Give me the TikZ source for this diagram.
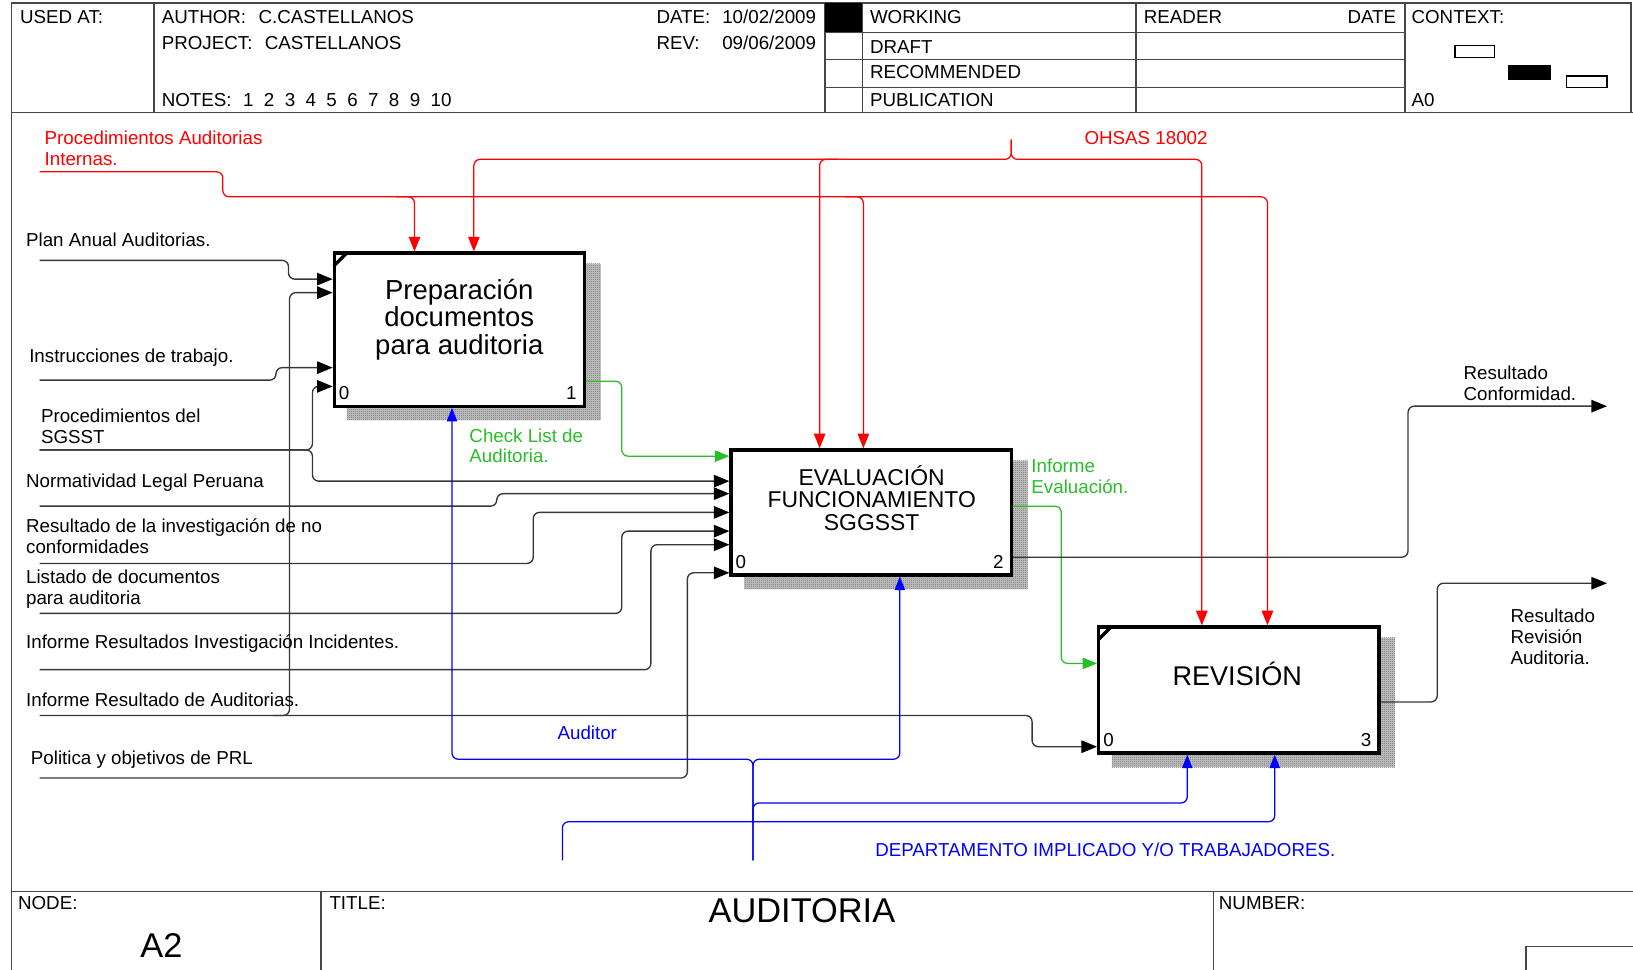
\documentclass[tikz,border=0pt]{standalone}
\usepackage{fontspec}
\setmainfont{Liberation Sans}
\usetikzlibrary{arrows.meta,patterns.meta}

\definecolor{idefred}{RGB}{255,0,0}
\definecolor{idefblue}{RGB}{0,0,255}
\definecolor{idefgreen}{RGB}{40,190,40}
\definecolor{framegray}{RGB}{70,70,70}
\definecolor{wiregray}{RGB}{55,55,55}

\pgfdeclarelayer{background}
\pgfsetlayers{background,main}

% fine checker used for the box shadows
\tikzdeclarepattern{
  name=shadowcheck,
  type=uncolored,
  bottom left={(0pt,0pt)},
  top right={(1pt,1pt)},
  tile size={(1pt,1pt)},
  code={
    \pgfpathrectangle{\pgfpointorigin}{\pgfpoint{0.5pt}{0.5pt}}
    \pgfpathrectangle{\pgfpoint{0.5pt}{0.5pt}}{\pgfpoint{0.5pt}{0.5pt}}
    \pgfusepath{fill}
  }
}

\newcommand{\lblfont}{\fontsize{9pt}{10pt}\selectfont}

\tikzset{
  frame/.style={draw=framegray, line width=0.75pt},
  fnbox/.style={draw=black, line width=1.6pt, fill=white, inner sep=0pt},
  boxtitle/.style={inner sep=0pt, align=center},
  boxnum/.style={inner sep=0pt, anchor=base, font=\lblfont},
  lbl/.style={inner sep=0pt, anchor=base west, font=\lblfont},
  mlbl/.style={inner sep=0pt, anchor=north west, align=left, font=\lblfont},
  hdr/.style={inner sep=0pt, anchor=base west, font=\lblfont},
  wire/.style={draw=wiregray, line width=0.65pt, rounded corners=3pt,
    -{Triangle[length=7.5pt,width=6pt,color=black]}},
  ctrl/.style={draw=idefred, line width=0.6pt, rounded corners=3pt,
    -{Triangle[length=7pt,width=5.5pt]}},
  mech/.style={draw=idefblue, line width=0.6pt, rounded corners=3pt,
    -{Triangle[length=6.5pt,width=5pt]}},
  outgreen/.style={draw=idefgreen, line width=0.6pt, rounded corners=3pt,
    -{Triangle[length=7pt,width=5.5pt]}},
  shade/.style={preaction={fill=black!22}, pattern={shadowcheck}, pattern color=black!60},
  cornermark/.style={draw=black, line width=1.6pt},
}

\begin{document}
\begin{tikzpicture}[x=0.5pt,y=-0.5pt]
\useasboundingbox (0,0) rectangle (1568,931);

% ---------- sheet frame and header ----------
\draw[frame] (11,931) -- (11,3) -- (1566,3) -- (1566,108);
\draw[frame] (11,108) -- (1568,108);
\foreach \x in {148,792,828,1091,1349} \draw[frame] (\x,3) -- (\x,108);
\foreach \y in {31,57,84} \draw[frame] (792,\y) -- (1349,\y);
\fill[black] (792,3) rectangle (828,31);

\node[hdr] (usedat) at (19,22.5) {USED AT:};
\node[hdr] (author) at (155,22.5) {AUTHOR:\hspace{6pt}C.CASTELLANOS};
\node[hdr] (project) at (155,47.5) {PROJECT:\hspace{6pt}CASTELLANOS};
\node[hdr] (notes) at (155,102) {NOTES:\hspace{5.5pt}1\hspace{5pt}2\hspace{5pt}3\hspace{5pt}4\hspace{5pt}5\hspace{5pt}6\hspace{5pt}7\hspace{5pt}8\hspace{5pt}9\hspace{5pt}10};
\node[hdr] (datelbl) at (630,22.5) {DATE:};
\node[hdr, anchor=base east] (dateval) at (784,22.5) {10/02/2009};
\node[hdr] (revlbl) at (630,47.5) {REV:};
\node[hdr, anchor=base east] (revval) at (784,47.5) {09/06/2009};
\node[hdr] (working) at (835,22.5) {WORKING};
\node[hdr] (draft) at (835,51) {DRAFT};
\node[hdr] (recommended) at (835,75.5) {RECOMMENDED};
\node[hdr] (publication) at (835,102) {PUBLICATION};
\node[hdr] (reader) at (1098,22.5) {READER};
\node[hdr, anchor=base east] (readerdate) at (1341,22.5) {DATE};
\node[hdr] (context) at (1355,22.5) {CONTEXT:};
\node[hdr] (ctxnode) at (1355,102) {A0};
\draw[black, line width=0.6pt] (1397,44) rectangle (1435,55);
\fill[black] (1448,62) rectangle (1489,77);
\draw[black, line width=0.6pt] (1504,73) rectangle (1543,84);

% ---------- footer ----------
\draw[frame] (11,856) -- (1568,856);
\draw[frame] (308,856) -- (308,931);
\draw[frame] (1165,856) -- (1165,931);
\draw[frame] (1465,931) -- (1465,909) -- (1568,909);
\node[hdr] (nodelbl) at (17,873.5) {NODE:};
\node[hdr] (titlelbl) at (316,873.5) {TITLE:};
\node[hdr] (numberlbl) at (1170,873.5) {NUMBER:};
\node[inner sep=0pt, anchor=base, font=\fontsize{16.5pt}{18pt}\selectfont] (nodeid) at (155,919) {A2};
\node[inner sep=0pt, anchor=base, font=\fontsize{16.5pt}{18pt}\selectfont] (title) at (770,885.5) {AUDITORIA};

% ---------- activity boxes ----------
\node[fnbox, minimum width=120pt, minimum height=73.5pt] (b1) at (441,316.5) {};
\node[fnbox, minimum width=134.5pt, minimum height=60pt] (b2) at (836.5,492) {};
\node[fnbox, minimum width=134.5pt, minimum height=60.5pt] (b3) at (1189.5,662.5) {};

\begin{pgfonlayer}{background}
  \foreach \b in {b1,b2,b3}
    \fill[shade] ([shift={(14,12)}]\b.north west) rectangle ([shift={(14,12)}]\b.south east);
\end{pgfonlayer}

\draw[cornermark] ([shift={(1,14)}]b1.north west) -- ([shift={(14,1)}]b1.north west);
\draw[cornermark] ([shift={(1,14)}]b3.north west) -- ([shift={(14,1)}]b3.north west);

\node[boxtitle, font=\fontsize{13.2pt}{13pt}\selectfont] (b1t) at (441,307) {Preparación\\documentos\\para auditoria};
\node[boxtitle, font=\fontsize{11pt}{10.8pt}\selectfont] (b2t) at (837,478) {EVALUACIÓN\\FUNCIONAMIENTO\\SGGSST};
\node[boxtitle, anchor=base, font=\fontsize{13pt}{13pt}\selectfont] (b3t) at (1188,658.5) {REVISIÓN};

\node[boxnum] (b1n0) at ([shift={(11,-8)}]b1.south west) {0};
\node[boxnum] (b1n1) at ([shift={(-14,-8)}]b1.south east) {1};
\node[boxnum] (b2n0) at ([shift={(11,-8)}]b2.south west) {0};
\node[boxnum] (b2n2) at ([shift={(-14,-8)}]b2.south east) {2};
\node[boxnum] (b3n0) at ([shift={(11,-8)}]b3.south west) {0};
\node[boxnum] (b3n3) at ([shift={(-14,-8)}]b3.south east) {3};

% ---------- free ends of the boundary arrows ----------
\coordinate (procSrc) at (38,165);
\coordinate (ohsasSrc) at (971,134);
\coordinate (planSrc) at (38,250);
\coordinate (instrSrc) at (38,365);
\coordinate (sgsstSrc) at (38,432);
\coordinate (normSrc) at (38,486);
\coordinate (invSrc) at (38,541);
\coordinate (listSrc) at (38,589);
\coordinate (incSrc) at (38,643);
\coordinate (audSrc) at (38,687);
\coordinate (prlSrc) at (38,747);
\coordinate (deptSrcA) at (723,826);
\coordinate (deptSrcB) at (540,826);
\coordinate (confEnd) at (1543,390);
\coordinate (revEnd) at (1543,560);

% ---------- controls (red) ----------
\draw[ctrl] (procSrc) -- (214,165) -- (214,189) -- (1217,189) -- (1217,0 |- b3.north);
\draw[ctrl] (380,189) -- (398,189) -- (398,0 |- b1.north);
\draw[ctrl] (811,189) -- (829,189) -- (829,0 |- b2.north);
\draw[ctrl] (ohsasSrc) -- (971,153) -- (455,153) -- (455,0 |- b1.north);
\draw[ctrl] (ohsasSrc) -- (971,153) -- (1154,153) -- (1154,0 |- b3.north);
\draw[ctrl] (805,153) -- (787,153) -- (787,0 |- b2.north);

% ---------- inputs (black) ----------
\draw[wire] (planSrc) -- (277,250) -- (277,268) -- (b1.west |- 0,268);
\draw[wire] (audSrc) -- (991,687) -- (991,717) -- (b3.west |- 0,717);
\draw[wire] (262,687) -- (278,687) -- (278,281) -- (b1.west |- 0,281);
\draw[wire] (instrSrc) -- (265,365) -- (265,353) -- (b1.west |- 0,353);
\draw[wire] (sgsstSrc) -- (300,432) -- (300,371) -- (b1.west |- 0,371);
\draw[wire] (sgsstSrc) -- (300,432) -- (300,462) -- (b2.west |- 0,462);
\draw[wire] (normSrc) -- (477,486) -- (477,474) -- (b2.west |- 0,474);
\draw[wire] (invSrc) -- (512,541) -- (512,492) -- (b2.west |- 0,492);
\draw[wire] (listSrc) -- (597,589) -- (597,510) -- (b2.west |- 0,510);
\draw[wire] (incSrc) -- (625,643) -- (625,523) -- (b2.west |- 0,523);
\draw[wire] (prlSrc) -- (660,747) -- (660,550) -- (b2.west |- 0,550);

% ---------- outputs ----------
\draw[outgreen] (b1.east |- 0,366) -- (597,366) -- (597,438) -- (b2.west |- 0,438);
\draw[outgreen] (b2.east |- 0,486) -- (1019,486) -- (1019,637) -- (b3.west |- 0,637);
\draw[wire] (b2.east |- 0,535) -- (1352,535) -- (1352,390) -- (confEnd);
\draw[wire] (b3.east |- 0,674) -- (1380,674) -- (1380,560) -- (revEnd);

% ---------- mechanisms (blue) ----------
\draw[mech] (deptSrcA) -- (723,729) -- (434,729) -- (434,0 |- b1.south);
\draw[mech] (deptSrcA) -- (723,729) -- (864,729) -- (864,0 |- b2.south);
\draw[mech] (723,790) -- (723,771) -- (1140,771) -- (1140,0 |- b3.south);
\draw[mech] (deptSrcB) -- (540,789) -- (1224,789) -- (1224,0 |- b3.south);

% ---------- arrow labels ----------
\node[mlbl, text=idefred] (lproc) at (42.5,125.3) {Procedimientos Auditorias\\Internas.};
\node[lbl, text=idefred] (lohsas) at (1041,138.3) {OHSAS 18002};
\node[lbl] (lplan) at (24.7,236.9) {Plan Anual Auditorias.};
\node[lbl] (linstr) at (27.7,348) {Instrucciones de trabajo.};
\node[mlbl] (lsgsst) at (39,392.4) {Procedimientos del\\SGSST};
\node[lbl] (lnorm) at (24.7,468) {Normatividad Legal Peruana};
\node[mlbl] (linv) at (24.7,497.4) {Resultado de la investigación de no\\conformidades};
\node[mlbl] (llist) at (24.7,547) {Listado de documentos\\para auditoria};
\node[lbl] (linc) at (24.7,623) {Informe Resultados Investigación Incidentes.};
\node[lbl] (laud) at (24.7,678.8) {Informe Resultado de Auditorias.};
\node[lbl] (lprl) at (29.3,734) {Politica y objetivos de PRL};
\node[mlbl, text=idefgreen] (lcheck) at (450.4,411) {Check List de\\Auditoria.};
\node[mlbl, text=idefgreen] (leval) at (990,440) {Informe\\Evaluación.};
\node[mlbl] (lconf) at (1405,351) {Resultado\\Conformidad.};
\node[mlbl] (lrev) at (1450,584.4) {Resultado\\Revisión\\Auditoria.};
\node[lbl, text=idefblue] (lauditor) at (535,710.5) {Auditor};
\node[lbl, text=idefblue] (ldept) at (840,822.5) {DEPARTAMENTO IMPLICADO Y/O TRABAJADORES.};

\end{tikzpicture}
\end{document}
